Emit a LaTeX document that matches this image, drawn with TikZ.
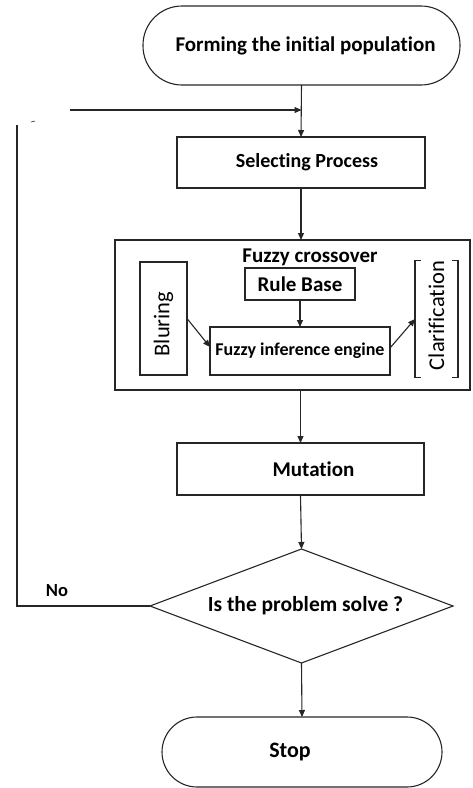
\documentclass[tikz,border=0pt]{standalone}
\usepackage{fontspec}
\setmainfont{Carlito}[Ligatures=NoCommon]
\usetikzlibrary{shapes.geometric,arrows.meta}
\begin{document}
\begin{tikzpicture}[x=1pt,y=-1pt,
  line width=1.1pt, draw=black!85,
  box/.style={draw, rectangle, inner sep=0pt, outer sep=0pt, font=\fontsize{21}{24}\selectfont\bfseries},
  term/.style={box, rounded corners=#1},
  arr/.style={-{Triangle[length=7pt,width=6pt]}},
  lbl/.style={inner sep=0pt, font=\fontsize{21}{24}\selectfont\bfseries}]
\useasboundingbox (0,0) rectangle (472,788);
% nodes
\node[term=39pt, minimum width=317pt, minimum height=79pt] (top) at (301.5,45.5) {\raisebox{-3pt}{\hspace*{8pt}Forming the initial population}};
\node[box, minimum width=248pt, minimum height=51pt, font=\fontsize{20}{24}\selectfont\bfseries] (sel) at (301,162.5) {\hspace*{12pt}Selecting Process};
\node[box, minimum width=355pt, minimum height=150pt] (fc) at (292.5,315) {};
\node[lbl] (fclbl) at (310,257) {Fuzzy crossover};
\node[box, minimum width=110pt, minimum height=32pt] (rb) at (300,284) {Rule Base};
\node[box, minimum width=180pt, minimum height=48pt, font=\fontsize{18}{20}\selectfont\bfseries] (fie) at (300,351) {\raisebox{-4pt}{Fuzzy inference engine}};
\node[box, minimum width=47pt, minimum height=113pt, font=\fontsize{22.5}{24}\selectfont] (blur) at (163.5,318.5) {\rotatebox{90}{\hspace*{-11pt}Bluring}};
\node[inner sep=0pt, outer sep=0pt, minimum width=43pt, minimum height=112pt, font=\fontsize{22.5}{24}\selectfont] (clar) at (436.5,319) {\rotatebox{90}{\hspace*{7pt}Clarification}};
\draw ([xshift=6pt]clar.north west) -- (clar.north west) -- (clar.south west) -- ([xshift=6pt]clar.south west);
\draw ([xshift=-6pt]clar.north east) -- (clar.north east) -- (clar.south east) -- ([xshift=-6pt]clar.south east);
\node[box, minimum width=247pt, minimum height=52pt] (mut) at (300.5,469) {\hspace*{26pt}Mutation};
\node[box, diamond, aspect=2.66, minimum width=303pt, minimum height=114pt, font=\fontsize{21.5}{24}\selectfont\bfseries] (dia) at (301.5,606) {\hspace*{8pt}Is the problem solve ?};
\node[term=35pt, minimum width=280pt, minimum height=70pt, font=\fontsize{22}{24}\selectfont\bfseries] (stop) at (302,752) {\hspace*{-24pt}Stop};
\node[lbl, font=\fontsize{18.5}{20}\selectfont\bfseries] (no) at (57,591) {No};
\coordinate (fb) at (70,110);
\coordinate (lt) at (17,125);
% connectors
\draw[arr] (top.south) -- (sel.north);
\draw[arr] (fb) -- (top.south |- fb);
\draw[arr] (sel.south) -- (sel.south |- fc.north);
\draw[arr] (rb.south) -- (fie.north);
\draw[arr] (blur.east) -- ([yshift=4pt]fie.west);
\draw[arr] ([yshift=3pt]fie.east) -- (clar.west);
\draw[arr] (mut.north |- fc.south) -- (mut.north);
\draw[arr] (mut.south) -- (dia.north);
\draw[arr] (dia.south) -- (stop.north);
\draw (dia.west) -- (lt |- dia.west) -- (lt);
\draw[line width=0.6pt] (31,122) -- (35,121);
\end{tikzpicture}
\end{document}
